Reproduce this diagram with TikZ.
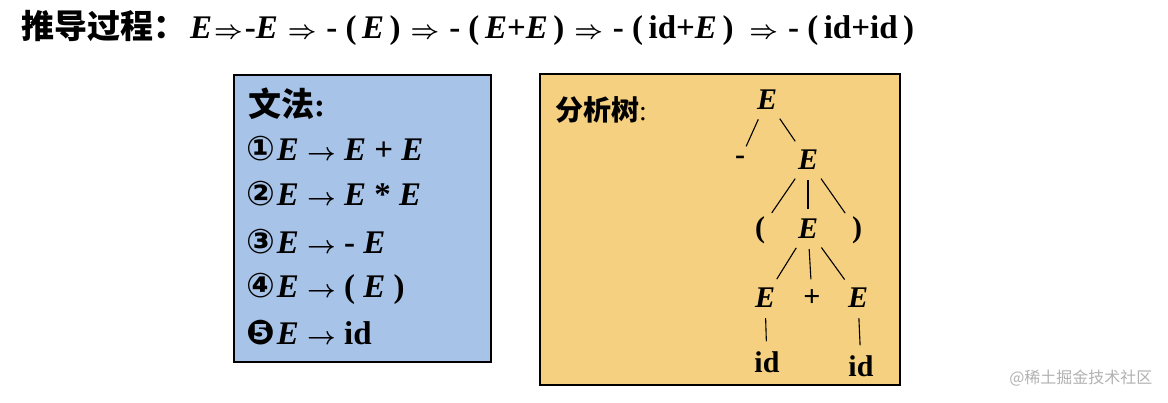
\documentclass[tikz,border=0pt]{standalone}
\usepackage{amsmath,amssymb}
\usepackage{fontspec}
\setmainfont{Liberation Serif}
\newfontfamily\cjk{Noto Sans CJK SC}
\newfontfamily\dvs{DejaVu Sans}
\newcommand{\bimp}{\hspace{10pt}\ensuremath{\boldsymbol{\Rightarrow}}\hspace{10pt}}
\newcommand{\barr}{\ensuremath{\boldsymbol{\rightarrow}}}
\newcommand{\cd}[1]{{\dvs\fontsize{34}{34}\selectfont #1}\hspace{2pt}}
\begin{document}
\begin{tikzpicture}[x=1pt,y=-1pt,
  t/.style={font=\fontsize{33}{35}\selectfont\bfseries, inner sep=1pt},
  g/.style={font=\fontsize{33}{35}\selectfont\bfseries, anchor=west, inner sep=0pt},
  tr/.style={font=\fontsize{30}{32}\selectfont\bfseries, inner sep=2pt},
  ed/.style={line width=1.1pt, shorten >=8pt, shorten <=8pt}]
\useasboundingbox (0,0) rectangle (1168,402);
\fill[white] (0,0) rectangle (1168,402);
% title
\node[t, anchor=west] (title) at (20,28) {{\cjk\bfseries 推导过程：}\hspace{4pt}\textit{E}\hspace{-8pt}\bimp\hspace{-8pt}-\textit{E}\bimp- (\,\textit{E}\,)\bimp- (\,\textit{E}+\textit{E}\,)\bimp- (\,id+\textit{E}\,)\hspace{6pt}\bimp- (\,id+id\,)};
% grammar box
\draw[fill={rgb,255:red,168;green,195;blue,232}, line width=1.2pt] (234,75) rectangle (491,362);
\node[g] (gt) at (248,104) {{\cjk\bfseries 文法}:};
\node[g] (g1) at (246,149) {\cd{①}\textit{E} \barr\ \textit{E} + \textit{E}};
\node[g] (g2) at (246,194) {\cd{②}\textit{E} \barr\ \textit{E} * \textit{E}};
\node[g] (g3) at (246,242) {\cd{③}\textit{E} \barr\ - \textit{E}};
\node[g] (g4) at (246,289) {\cd{④}\textit{E} \barr\ ( \textit{E} )};
\node[g] (g5) at (246,333) {\cd{❺}\textit{E} \barr\ id};
% tree box
\draw[fill={rgb,255:red,245;green,208;blue,128}, line width=1.2pt] (540,74) rectangle (900,385);
\node[g, font=\fontsize{28}{30}\selectfont] (tt) at (555,110) {{\cjk\bfseries 分析树}:};
\node[tr] (r) at (767,100) {\textit{E}};
\node[tr] (m) at (740,160) {-};
\node[tr] (e1) at (808,160) {\textit{E}};
\node[tr] (lp) at (760,230) {(};
\node[tr] (e2) at (808,229) {\textit{E}};
\node[tr] (rp) at (857,230) {)};
\node[tr] (e3) at (765,298) {\textit{E}};
\node[tr] (pl) at (812,298) {+};
\node[tr] (e4) at (858,298) {\textit{E}};
\node[tr] (i1) at (767,362) {id};
\node[tr] (i2) at (861,366) {id};
\draw[ed] (r) -- (m); \draw[ed] (r) -- (e1);
\draw[ed] (e1) -- (lp); \draw[ed] (e1) -- (e2); \draw[ed] (e1) -- (rp);
\draw[ed] (e2) -- (e3); \draw[ed] (e2) -- (pl); \draw[ed] (e2) -- (e4);
\draw[ed] (e3) -- (i1); \draw[ed] (e4) -- (i2);
\node[font=\fontsize{16}{18}\selectfont\cjk, text=gray!60, anchor=east] (wm) at (1156,378) {@稀土掘金技术社区};
\end{tikzpicture}
\end{document}
